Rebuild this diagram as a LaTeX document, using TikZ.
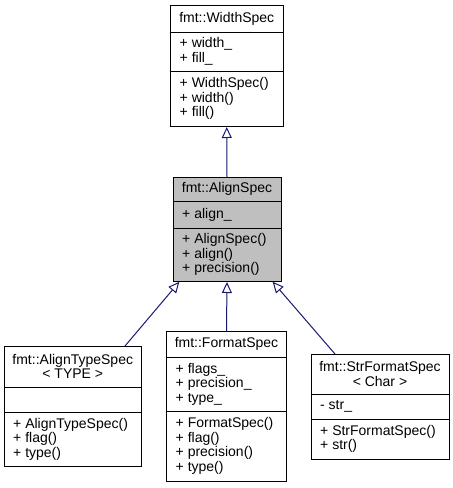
\documentclass[tikz,border=0pt]{standalone}
\usepackage{fontspec}
\setmainfont{Liberation Sans}
\usetikzlibrary{arrows.meta}
\definecolor{edgeblue}{HTML}{191970}
\definecolor{boxgray}{HTML}{BFBFBF}
\tikzset{
  classbox/.style={draw=black, line width=1pt, inner sep=0pt, outer sep=0pt, rectangle},
  divider/.style={draw=black, line width=1pt},
  title/.style={inner sep=0pt, align=center, font=\fontsize{14}{14.5}\selectfont},
  members/.style={inner sep=0pt, anchor=west, align=left, font=\fontsize{14}{14.5}\selectfont},
  inherit/.style={draw=edgeblue, line width=1pt, -{Triangle[open, length=11pt, width=10pt]}, shorten >=1pt},
}
\begin{document}
\begin{tikzpicture}[x=1pt, y=-1pt]
\path[use as bounding box] (0,0) rectangle (453,488);

% fmt::WidthSpec
\node[classbox, minimum width=112.5pt, minimum height=120.5pt] (ws) at (226.75,65.75) {};
\draw[divider] (170.5,32) -- (283,32);
\draw[divider] (170.5,71) -- (283,71);
\node[title] (wst) at (226.75,18.75) {fmt::WidthSpec};
\node[members] (wsa) at (179.5,51.5) {+ width\_\\+ fill\_};
\node[members] (wsm) at (179.5,98.5) {+ WidthSpec()\\+ width()\\+ fill()};

% fmt::AlignSpec
\node[classbox, fill=boxgray, minimum width=108pt, minimum height=104pt] (as) at (227,229) {};
\draw[divider] (173,201) -- (281,201);
\draw[divider] (173,228) -- (281,228);
\node[title] (ast) at (227,189) {fmt::AlignSpec};
\node[members] (asa) at (182,214.5) {+ align\_};
\node[members] (asm) at (182,254.5) {+ AlignSpec()\\+ align()\\+ precision()};

% fmt::AlignTypeSpec
\node[classbox, minimum width=137.5pt, minimum height=120pt] (ats) at (72.75,406) {};
\draw[divider] (4,387) -- (141.5,387);
\draw[divider] (4,412) -- (141.5,412);
\node[title] (atst) at (72.75,366.5) {fmt::AlignTypeSpec\\< TYPE >};
\node[members] (atsm) at (13,439) {+ AlignTypeSpec()\\+ flag()\\+ type()};

% fmt::FormatSpec
\node[classbox, minimum width=120pt, minimum height=149.5pt] (fs) at (226.5,406.25) {};
\draw[divider] (166.5,357) -- (286.5,357);
\draw[divider] (166.5,411) -- (286.5,411);
\node[title] (fst) at (226.5,344.25) {fmt::FormatSpec};
\node[members] (fsa) at (175.5,384) {+ flags\_\\+ precision\_\\+ type\_};
\node[members] (fsm) at (175.5,446) {+ FormatSpec()\\+ flag()\\+ precision()\\+ type()};

% fmt::StrFormatSpec
\node[classbox, minimum width=138pt, minimum height=105pt] (sfs) at (380,406.5) {};
\draw[divider] (311,394) -- (449,394);
\draw[divider] (311,419) -- (449,419);
\node[title] (sfst) at (380,374) {fmt::StrFormatSpec\\< Char >};
\node[members] (sfsa) at (320,406.5) {- str\_};
\node[members] (sfsm) at (320,439) {+ StrFormatSpec()\\+ str()};

% inheritance
\draw[inherit] (as.north) -- (ws.south);
\draw[inherit] ([xshift=52.25pt]ats.north) -- ([xshift=-47pt]as.south);
\draw[inherit] (fs.north) -- (as.south);
\draw[inherit] ([xshift=-45pt]sfs.north) -- ([xshift=45pt]as.south);
\end{tikzpicture}
\end{document}
